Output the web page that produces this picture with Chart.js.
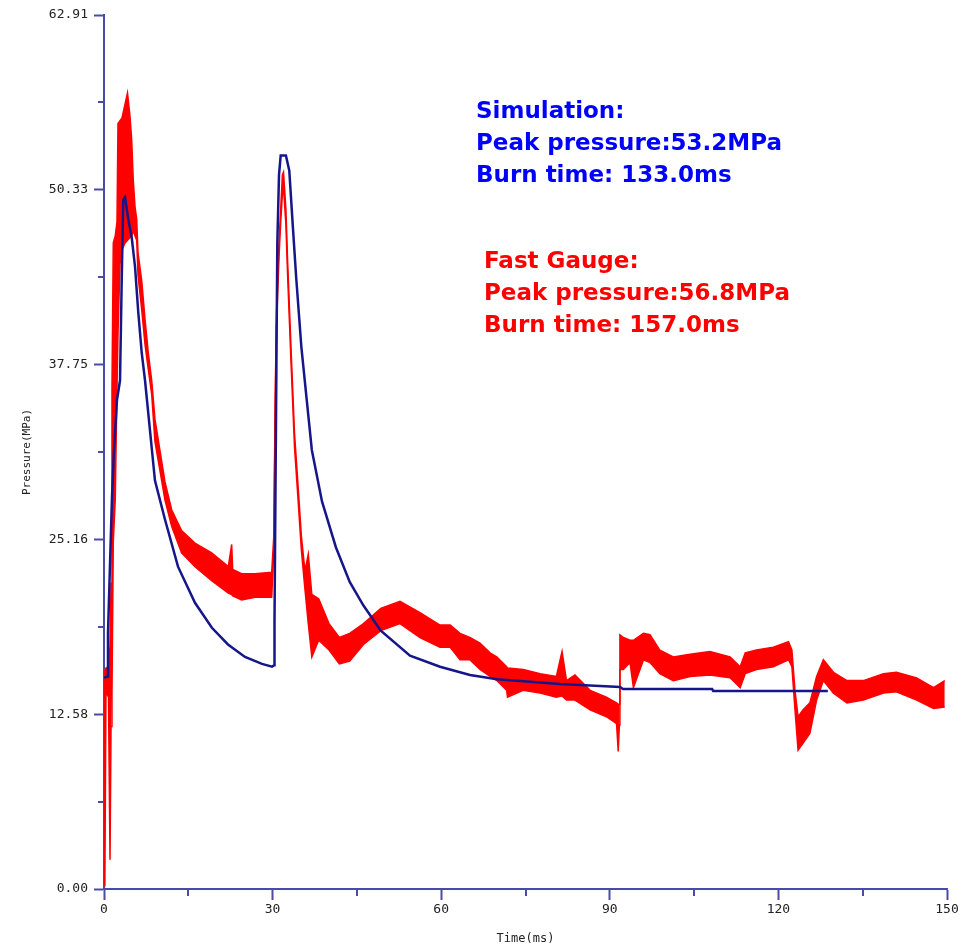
<!DOCTYPE html>
<html>
<head>
<meta charset="utf-8">
<title>Pressure vs Time</title>
<script src="https://cdn.jsdelivr.net/npm/chart.js@4.4.1/dist/chart.umd.min.js"></script>
<style>
	html, body { margin: 0; padding: 0; background: #fff; }
	#wrap { position: relative; width: 961px; height: 947px; }
</style>
</head>
<body>
<div id="wrap"><canvas id="pressureChart" width="961" height="947"></canvas></div>
<script>
// simulation curve (ms, MPa)
const simTime = [0, 0.62, 0.71, 1.42, 1.78, 2.31, 2.85, 3.15, 3.43, 3.74, 4.32, 4.93, 5.52, 6.1, 6.71, 7.3,
	9.07, 10.85, 13.17, 16.19, 19.2, 22.06, 25.09, 28.11, 29.9, 30.25, 30.34, 30.84, 31.14, 31.44, 32.37,
	32.97, 33.6, 34.2, 35.12, 36.05, 36.98, 38.79, 41.26, 43.72, 46.17, 49.25, 54.45, 59.79, 65.12, 69.93,
	81.14, 91.81, 92.35, 108.2, 108.4, 128.8];
const simPressure = [15.2, 15.3, 18.4, 28.2, 31.6, 35.2, 36.6, 43.8, 49.6, 49.8, 48.2, 46.9, 44.8, 41.5, 38.6, 36.6,
	29.4, 26.6, 23.2, 20.6, 18.8, 17.6, 16.7, 16.2, 16.0, 16.1, 19.4, 46.5, 51.4, 52.8, 52.8,
	51.7, 47.7, 44.0, 39.0, 35.3, 31.6, 27.9, 24.6, 22.1, 20.4, 18.6, 16.8, 16.0, 15.4, 15.1,
	14.75, 14.54, 14.4, 14.4, 14.25, 14.25];

// fast gauge, noisy signal read as upper / lower edge of the trace
const gaugeTime = [0, 0.15, 0.35, 0.8, 1.07, 1.25, 1.42, 1.65, 2.0, 2.31, 2.49, 2.85, 3.2, 3.74, 4.18, 4.63, 4.93,
	5.21, 5.52, 5.82, 6.05, 6.71, 7.3, 7.88, 8.49, 9.07, 10.26, 10.85, 12.04, 13.8, 16.19, 19.16, 22.12, 22.72,
	22.9, 24.5, 26.87, 29.84, 30.2, 30.5, 30.7, 31.14, 31.44, 31.74, 31.94, 32.37, 32.67, 33.27, 33.9, 34.52,
	35.12, 35.75, 36.35, 36.98, 38.2, 40.04, 41.88, 43.72, 46.17, 49.25, 52.67, 56.23, 59.79, 61.6, 63.35,
	65.1, 66.9, 68.7, 69.93, 71.65, 71.8, 74.6, 77.6, 80.5, 81.5, 82.3, 83.8, 86.5, 89.4, 91.2, 91.5, 91.7,
	91.8, 92.4, 93.6, 94.2, 96.0, 97.15, 98.9, 101.3, 104.3, 107.8, 111.4, 113.2, 114.1, 116.1, 119.1, 121.8,
	122.4, 122.95, 123.5, 124.4, 125.6, 126.8, 128.0, 129.8, 132.2, 135.1, 138.7, 141.0, 144.6, 147.6, 149.6];
const gaugeHigh = [15.8, 15.6, 15.9, 16.0, 17.5, 22, 36, 46.5, 47, 48, 55.1, 55.3, 55.5, 56.5, 57.3, 55.6, 53.9,
	51, 49.1, 48.2, 45.8, 43.8, 41, 38.6, 36.6, 33.8, 30.8, 29.3, 27.3, 25.8, 24.9, 24.2, 23.2, 24.8,
	23.0, 22.7, 22.7, 22.8, 25.3, 36.5, 41.5, 46.5, 48.9, 51.4, 51.6, 48.9, 45.2, 39.0, 32.8, 29.1,
	25.4, 22.9, 24.1, 21.2, 20.9, 19.1, 18.1, 18.4, 19.1, 20.2, 20.7, 19.9, 19.0, 19.0, 18.4,
	18.1, 17.7, 17.0, 16.7, 16.0, 15.9, 15.8, 15.5, 15.3, 17.1, 15.0, 15.4, 14.3, 13.8, 13.4, 13.3, 13.3,
	18.3, 18.1, 17.9, 17.9, 18.4, 18.3, 17.2, 16.7, 16.9, 17.1, 16.7, 16.0, 17.0, 17.2, 17.4, 17.8,
	17.2, 14.3, 12.4, 12.9, 13.4, 15.3, 16.5, 15.6, 15.0, 15.0, 15.5, 15.6, 15.2, 14.5, 15.0];
const gaugeLow = [14.0, 0.2, 14.2, 13.8, 2.1, 11.7, 14, 25, 28, 36, 40, 45, 46, 46.5, 46.7, 46.9, 47.0,
	47.4, 47.0, 46.7, 44.2, 41.7, 39.2, 37.4, 35.6, 32.2, 29.4, 28.0, 26.1, 24.2, 23.2, 22.2, 21.3, 21.2,
	21.1, 20.8, 21.0, 21.0, 24.3, 35.5, 40.5, 45.5, 48.0, 50.0, 50.5, 47.8, 44.2, 38.0, 31.8, 28.1,
	24.4, 21.6, 19.1, 16.7, 17.9, 17.2, 16.2, 16.4, 17.6, 18.6, 19.1, 18.1, 17.4, 17.4, 16.5,
	16.5, 15.8, 15.3, 15.0, 14.3, 13.8, 14.3, 14.1, 13.8, 13.9, 13.6, 13.6, 12.9, 12.4, 11.9, 9.9, 11.8,
	15.8, 15.8, 16.3, 14.5, 16.5, 16.3, 15.5, 15.0, 15.3, 15.4, 15.2, 14.5, 15.5, 15.8, 16.0, 16.5,
	16.0, 12.9, 10.0, 10.5, 11.2, 13.6, 15.0, 14.1, 13.4, 13.6, 14.1, 14.2, 13.6, 13.0, 13.1];

const xTickValues = [0, 30, 60, 90, 120, 150];
const xMinorValues = [15, 45, 75, 105, 135];
const yTickValues = [0, 12.582, 25.164, 37.746, 50.328, 62.91];
const yTickLabels = ['0.00', '12.58', '25.16', '37.75', '50.33', '62.91'];
const yMinorValues = [6.291, 18.873, 31.455, 44.037, 56.619];

const simNotes = ['Simulation:', 'Peak pressure:53.2MPa', 'Burn time: 133.0ms'];
const gaugeNotes = ['Fast Gauge:', 'Peak pressure:56.8MPa', 'Burn time: 157.0ms'];

const axisColor = '#4a4aa8';
const simColor = '#16168a';
const gaugeColor = '#ff0000';

function toPoints(xs, ys) {
	return xs.map(function (x, i) {
		return {x: x, y: ys[i]};
	});
}

// short ticks between the labelled ones
const minorTicks = {
	id: 'minorTicks',
	afterDraw(chart) {
		const ctx = chart.ctx;
		const xs = chart.scales.x;
		const ys = chart.scales.y;
		ctx.save();
		ctx.strokeStyle = axisColor;
		ctx.lineWidth = 2;
		xMinorValues.forEach(function (v) {
			const px = Math.round(xs.getPixelForValue(v));
			ctx.beginPath();
			ctx.moveTo(px, xs.top);
			ctx.lineTo(px, xs.top + 7);
			ctx.stroke();
		});
		yMinorValues.forEach(function (v) {
			const py = Math.round(ys.getPixelForValue(v));
			ctx.beginPath();
			ctx.moveTo(ys.right, py);
			ctx.lineTo(ys.right - 6, py);
			ctx.stroke();
		});
		ctx.restore();
	}
};

// the two text blocks in the upper right
const notes = {
	id: 'notes',
	afterDraw(chart) {
		const ctx = chart.ctx;
		ctx.save();
		ctx.font = 'bold 23px "DejaVu Sans", Verdana, sans-serif';
		ctx.textBaseline = 'alphabetic';
		ctx.textAlign = 'left';
		ctx.fillStyle = '#0000ff';
		simNotes.forEach(function (t, i) {
			ctx.fillText(t, 476, 118 + i * 32);
		});
		ctx.fillStyle = gaugeColor;
		gaugeNotes.forEach(function (t, i) {
			ctx.fillText(t, 484, 268 + i * 32);
		});
		ctx.restore();
	}
};

const chart = new Chart(document.getElementById('pressureChart'), {
	type: 'line',
	data: {
		datasets: [
			{
				label: 'Simulation',
				data: toPoints(simTime, simPressure),
				borderColor: simColor,
				borderWidth: 2.5,
				pointRadius: 0,
				fill: false,
				order: 0
			},
			{
				label: 'Fast Gauge',
				data: toPoints(gaugeTime, gaugeHigh),
				borderColor: gaugeColor,
				backgroundColor: gaugeColor,
				borderWidth: 1.5,
				pointRadius: 0,
				fill: '+1',
				order: 1
			},
			{
				label: 'Fast Gauge low',
				data: toPoints(gaugeTime, gaugeLow),
				borderColor: gaugeColor,
				borderWidth: 1.5,
				pointRadius: 0,
				fill: false,
				order: 2
			}
		]
	},
	options: {
		responsive: false,
		animation: false,
		devicePixelRatio: 1,
		layout: {padding: {top: 15, right: 14, left: 0, bottom: 0}},
		plugins: {
			legend: {display: false},
			tooltip: {enabled: false}
		},
		scales: {
			x: {
				type: 'linear',
				min: 0,
				max: 150,
				afterBuildTicks: function (scale) {
					scale.ticks = xTickValues.map(function (v) { return {value: v}; });
				},
				afterFit: function (scale) {
					scale.height = 58;
				},
				border: {color: axisColor, width: 2},
				grid: {drawOnChartArea: false, drawTicks: true, tickLength: 11, tickColor: axisColor, tickWidth: 2},
				ticks: {
					color: '#222',
					padding: 2,
					maxRotation: 0,
					font: {family: '"DejaVu Sans Mono", monospace', size: 13}
				},
				title: {
					display: true,
					text: 'Time(ms)',
					color: '#222',
					padding: {top: 0, bottom: 1},
					font: {family: '"DejaVu Sans Mono", monospace', size: 12}
				}
			},
			y: {
				type: 'linear',
				min: 0,
				max: 62.91,
				afterBuildTicks: function (scale) {
					scale.ticks = yTickValues.map(function (v) { return {value: v}; });
				},
				afterFit: function (scale) {
					scale.width = 104;
				},
				border: {color: axisColor, width: 2},
				grid: {drawOnChartArea: false, drawTicks: true, tickLength: 10, tickColor: axisColor, tickWidth: 2},
				ticks: {
					color: '#222',
					padding: 6,
					callback: function (value, index) {
						return yTickLabels[index];
					},
					font: {family: '"DejaVu Sans Mono", monospace', size: 13}
				},
				title: {
					display: true,
					text: 'Pressure(MPa)',
					color: '#222',
					padding: {top: 21, bottom: 0},
					font: {family: '"DejaVu Sans Mono", monospace', size: 11}
				}
			}
		}
	},
	plugins: [minorTicks, notes]
});
</script>
</body>
</html>
